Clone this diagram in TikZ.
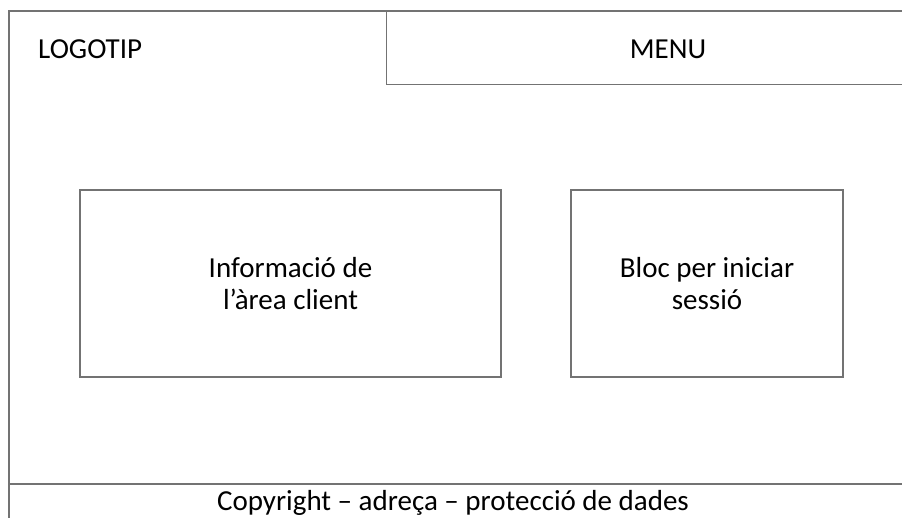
\documentclass[tikz,border=0pt]{standalone}
\usepackage{fontspec}
\setmainfont{Carlito}
\usetikzlibrary{positioning}
\begin{document}
\begin{tikzpicture}[x=1pt, y=-1pt,
  every node/.style = {font=\fontsize{29}{32}\selectfont, align=center},
  box/.style = {shape=rectangle, draw=black!55, line width=1.4pt,
    inner sep=0pt}]
  \useasboundingbox (0,0) rectangle (902,517);
  % outer frame and header
  \draw[black!55, line width=1.4pt] (9,520) -- (9,11) -- (910,11);
  \node[box, anchor=north west, minimum width=570, minimum height=73] (menu) at (386,11) {};
  \node[anchor=base west, inner sep=0pt] (logo) at (38,58) {LOGOTIP};
  \node[anchor=base, inner sep=0pt] (menutext) at (668,58) {MENU};
  % main blocks
  \node[box, minimum width=421, minimum height=187] (info) at (290.5,283.5)
    {Informació de\\l’àrea client};
  \node[box, minimum width=272, minimum height=187] (login) at (707,283.5)
    {Bloc per iniciar\\sessió};
  % footer
  \draw[black!55, line width=1.4pt] (9,484) -- (910,484);
  \node[anchor=base, inner sep=0pt] (footer) at (453,510) {Copyright – adreça – protecció de dades};
\end{tikzpicture}
\end{document}
